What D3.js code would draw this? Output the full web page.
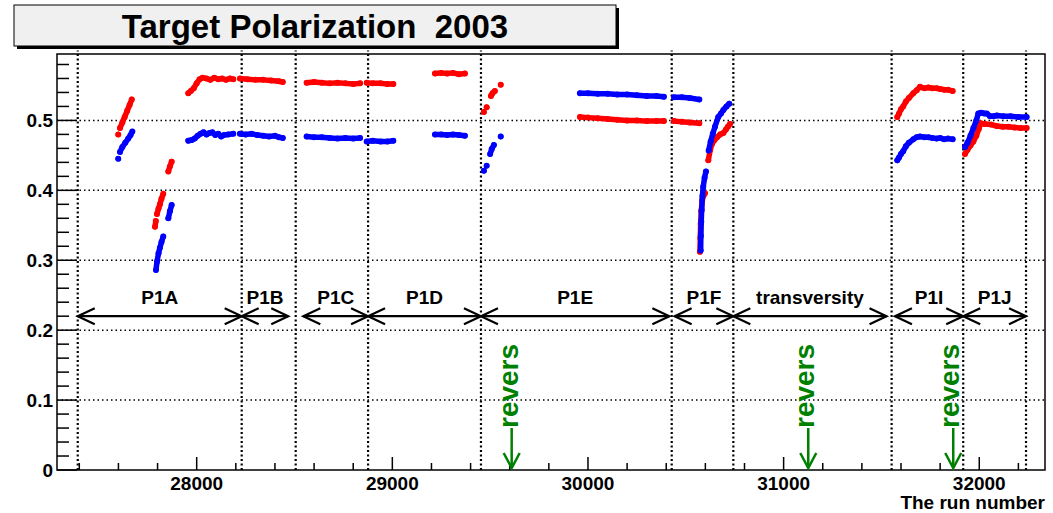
<!DOCTYPE html>
<html>
<head>
<meta charset="utf-8">
<script src="https://cdn.jsdelivr.net/npm/d3@7"></script>
<style>
  body { margin: 0; background: #fff; }
  text { font-family: "Liberation Sans", Arial, Helvetica, sans-serif; font-weight: bold; white-space: pre; }
</style>
</head>
<body>
<div id="chart"></div>
<script>
// polarization per run, segments separated where the data has gaps
const redSegments = [
  [[27599, 0.480]],
  [[27608, 0.489], [27620, 0.497], [27632, 0.505], [27645, 0.514], [27657, 0.522], [27668, 0.530]],
  [[27787, 0.348], [27791, 0.356]],
  [[27797, 0.366], [27805, 0.374], [27812, 0.380], [27820, 0.388], [27829, 0.395]],
  [[27855, 0.427], [27863, 0.434], [27872, 0.441]],
  [[27957, 0.539], [27970, 0.542], [27985, 0.546], [28000, 0.553], [28015, 0.559], [28030, 0.561], [28050, 0.560], [28070, 0.558], [28090, 0.561], [28110, 0.559], [28130, 0.560], [28150, 0.558], [28170, 0.560], [28187, 0.559]],
  [[28221, 0.560], [28260, 0.559], [28300, 0.558], [28340, 0.558], [28380, 0.557], [28420, 0.556], [28440, 0.555]],
  [[28562, 0.554], [28600, 0.555], [28640, 0.554], [28680, 0.553], [28720, 0.554], [28760, 0.553], [28800, 0.552], [28835, 0.553]],
  [[28869, 0.554], [28900, 0.553], [28940, 0.553], [28975, 0.552], [29005, 0.552]],
  [[29218, 0.567], [29250, 0.568], [29280, 0.567], [29310, 0.568], [29340, 0.566], [29371, 0.567]],
  [[29468, 0.512]],
  [[29482, 0.519]],
  [[29504, 0.535], [29512, 0.539], [29524, 0.542]],
  [[29554, 0.551]],
  [[29959, 0.505], [30000, 0.504], [30050, 0.503], [30100, 0.502], [30150, 0.501], [30200, 0.500], [30250, 0.500], [30300, 0.499], [30350, 0.499], [30388, 0.499]],
  [[30440, 0.499], [30480, 0.498], [30520, 0.497], [30569, 0.496]],
  [[30572, 0.312], [30574, 0.332], [30576, 0.352], [30579, 0.370], [30584, 0.386], [30590, 0.392], [30598, 0.396]],
  [[30615, 0.443], [30625, 0.458], [30635, 0.467], [30647, 0.472], [30660, 0.476], [30675, 0.480], [30692, 0.482], [30705, 0.487], [30715, 0.491], [30726, 0.495]],
  [[31581, 0.505], [31590, 0.510], [31600, 0.516], [31611, 0.520], [31625, 0.527], [31640, 0.532], [31663, 0.539], [31680, 0.543], [31697, 0.548], [31720, 0.546], [31740, 0.547], [31760, 0.546], [31782, 0.546], [31800, 0.545], [31820, 0.544], [31840, 0.544], [31864, 0.542]],
  [[31927, 0.452], [31940, 0.458], [31955, 0.464], [31970, 0.470], [31985, 0.478], [31998, 0.488], [32007, 0.496], [32030, 0.495], [32060, 0.494], [32089, 0.492], [32120, 0.491], [32150, 0.491], [32180, 0.490], [32210, 0.489], [32242, 0.489]]
];

const blueSegments = [
  [[27599, 0.445]],
  [[27608, 0.455], [27620, 0.462], [27635, 0.468], [27650, 0.474], [27662, 0.479], [27671, 0.484]],
  [[27792, 0.286], [27797, 0.298], [27805, 0.310], [27812, 0.318], [27820, 0.326], [27829, 0.334]],
  [[27855, 0.360], [27863, 0.370], [27872, 0.379]],
  [[27957, 0.471], [27975, 0.472], [27990, 0.474], [28005, 0.478], [28020, 0.481], [28035, 0.483], [28050, 0.480], [28065, 0.482], [28080, 0.483], [28095, 0.479], [28110, 0.481], [28125, 0.477], [28140, 0.479], [28160, 0.480], [28187, 0.481]],
  [[28221, 0.481], [28250, 0.480], [28280, 0.481], [28310, 0.479], [28340, 0.478], [28370, 0.477], [28400, 0.478], [28420, 0.476], [28440, 0.475]],
  [[28562, 0.477], [28600, 0.476], [28640, 0.476], [28680, 0.475], [28720, 0.474], [28760, 0.475], [28800, 0.474], [28835, 0.475]],
  [[28869, 0.470], [28900, 0.471], [28940, 0.470], [28975, 0.470], [29005, 0.471]],
  [[29218, 0.480], [29250, 0.480], [29280, 0.479], [29310, 0.480], [29340, 0.479], [29371, 0.478]],
  [[29468, 0.428]],
  [[29482, 0.435]],
  [[29500, 0.452], [29508, 0.459], [29519, 0.465]],
  [[29554, 0.477]],
  [[29959, 0.539], [30000, 0.539], [30050, 0.538], [30100, 0.538], [30150, 0.537], [30200, 0.537], [30250, 0.536], [30300, 0.535], [30350, 0.535], [30388, 0.534]],
  [[30440, 0.533], [30480, 0.533], [30520, 0.532], [30569, 0.530]],
  [[30576, 0.314], [30577, 0.335], [30579, 0.355], [30581, 0.372], [30585, 0.392], [30589, 0.405], [30596, 0.418], [30603, 0.427]],
  [[30617, 0.457], [30627, 0.470], [30638, 0.481], [30649, 0.491], [30666, 0.505], [30680, 0.510], [30692, 0.515], [30708, 0.520], [30722, 0.524]],
  [[31581, 0.443], [31590, 0.447], [31600, 0.452], [31611, 0.456], [31625, 0.463], [31640, 0.468], [31663, 0.473], [31680, 0.476], [31697, 0.477], [31720, 0.476], [31740, 0.476], [31760, 0.475], [31782, 0.474], [31800, 0.475], [31820, 0.473], [31840, 0.474], [31864, 0.473]],
  [[31927, 0.462], [31940, 0.468], [31955, 0.478], [31970, 0.489], [31985, 0.500], [31995, 0.510], [32010, 0.511], [32025, 0.510], [32038, 0.510], [32055, 0.506], [32072, 0.506], [32090, 0.507], [32123, 0.506], [32160, 0.506], [32200, 0.505], [32242, 0.505]]
];

const periodNames = ["P1A", "P1B", "P1C", "P1D", "P1E", "P1F", "transversity", "P1I", "P1J"];
const periodStart = [27392, 28230, 28545, 28876, 29453, 30443, 30743, 31569, 31918];
const periodEnd   = [28230, 28468, 28876, 29453, 30416, 30743, 31526, 31918, 32239];
const boundaries = [27392, 28230, 28506, 28876, 29453, 30428, 30743, 31552, 31918, 32239];
const reversals = [29610, 31126, 31867];
const xTicks = [28000, 29000, 30000, 31000, 32000];
const yTicks = [0, 0.1, 0.2, 0.3, 0.4, 0.5];

const width = 1053, height = 513;
const padL = 57, padR = 1045, padT = 54, padB = 470;

const svg = d3.select("#chart").append("svg")
    .attr("width", width)
    .attr("height", height);

const x = d3.scaleLinear().domain([27286, 32336]).range([padL, padR]);
const y = d3.scaleLinear().domain([0, 0.595]).range([padB, padT]);

// title box
svg.append("rect").attr("x", 17).attr("y", 8).attr("width", 602).attr("height", 41).attr("fill", "#000");
svg.append("rect").attr("x", 14).attr("y", 5).attr("width", 602).attr("height", 41)
    .attr("fill", "#f0f0f0").attr("stroke", "#000").attr("stroke-width", 1);
svg.append("text").attr("x", 315).attr("y", 38).attr("text-anchor", "middle")
    .attr("font-size", 33).text("Target Polarization  2003");

// horizontal grid
svg.append("g").selectAll("line")
    .data(yTicks.filter(d => d > 0))
    .join("line")
    .attr("x1", padL).attr("x2", padR)
    .attr("y1", d => y(d)).attr("y2", d => y(d))
    .attr("stroke", "#000").attr("stroke-width", 1.5)
    .attr("stroke-dasharray", "1.5,3");

// period boundaries
svg.append("g").selectAll("line")
    .data(boundaries)
    .join("line")
    .attr("x1", d => x(d)).attr("x2", d => x(d))
    .attr("y1", y(0)).attr("y2", y(0.6))
    .attr("stroke", "#000").attr("stroke-width", 2.2)
    .attr("stroke-dasharray", "2,2.5");

// frame
svg.append("rect").attr("x", padL).attr("y", padT)
    .attr("width", padR - padL).attr("height", padB - padT)
    .attr("fill", "none").attr("stroke", "#000").attr("stroke-width", 1.5);

// y ticks (inside)
const yMinor = d3.range(0, 0.5801, 0.02);
svg.append("g").selectAll("line")
    .data(yMinor)
    .join("line")
    .attr("x1", padL)
    .attr("x2", d => padL + (Math.abs(d * 10 - Math.round(d * 10)) < 1e-6 ? 20 : 12))
    .attr("y1", d => y(d)).attr("y2", d => y(d))
    .attr("stroke", "#000").attr("stroke-width", 1.5);

svg.append("g").selectAll("text")
    .data(yTicks)
    .join("text")
    .attr("x", 53).attr("y", d => y(d) + 7)
    .attr("text-anchor", "end").attr("font-size", 19)
    .text(d => d === 0 ? "0" : d3.format(".1f")(d));

// x ticks (inside)
const xMinor = d3.range(27400, 32336, 200);
svg.append("g").selectAll("line")
    .data(xMinor)
    .join("line")
    .attr("x1", d => x(d)).attr("x2", d => x(d))
    .attr("y1", padB)
    .attr("y2", d => padB - (d % 1000 === 0 ? 13 : 7))
    .attr("stroke", "#000").attr("stroke-width", 1.5);

svg.append("g").selectAll("text")
    .data(xTicks)
    .join("text")
    .attr("x", d => x(d)).attr("y", 490)
    .attr("text-anchor", "middle").attr("font-size", 19)
    .text(d => d);

svg.append("text").attr("x", 1045).attr("y", 509)
    .attr("text-anchor", "end").attr("font-size", 19)
    .text("The run number");

// period arrows
const ay = y(0.22);
const arrows = svg.append("g").attr("stroke", "#000").attr("stroke-width", 2.2).attr("fill", "none");
periodNames.forEach((name, i) => {
  const x1 = x(periodStart[i]), x2 = x(periodEnd[i]);
  arrows.append("line").attr("x1", x1).attr("x2", x2).attr("y1", ay).attr("y2", ay);
  arrows.append("path").attr("d", `M${x1 + 17},${ay - 8}L${x1},${ay}L${x1 + 17},${ay + 8}`);
  arrows.append("path").attr("d", `M${x2 - 17},${ay - 8}L${x2},${ay}L${x2 - 17},${ay + 8}`);
  svg.append("text")
      .attr("x", (x1 + x2) / 2).attr("y", y(0.237))
      .attr("text-anchor", "middle").attr("font-size", 19)
      .text(name);
});

// reversal markers
const green = "#008000";
reversals.forEach(r => {
  const rx = x(r);
  const g = svg.append("g");
  g.append("line").attr("x1", rx).attr("x2", rx).attr("y1", 428).attr("y2", 468)
      .attr("stroke", green).attr("stroke-width", 2.5);
  g.append("path").attr("d", `M${rx - 8},${453}L${rx},${468}L${rx + 8},${453}`)
      .attr("fill", "none").attr("stroke", green).attr("stroke-width", 2.5);
  g.append("text")
      .attr("transform", `translate(${rx + 6},428) rotate(-90)`)
      .attr("font-size", 28).attr("fill", green)
      .text("revers");
});

// data
const line = d3.line().x(d => x(d[0])).y(d => y(d[1]));
function drawSeries(segments, color) {
  const g = svg.append("g");
  g.selectAll("path")
      .data(segments)
      .join("path")
      .attr("d", line)
      .attr("fill", "none").attr("stroke", color)
      .attr("stroke-width", 5.5)
      .attr("stroke-linecap", "round").attr("stroke-linejoin", "round");
  g.selectAll("circle")
      .data(segments.flat())
      .join("circle")
      .attr("cx", d => x(d[0])).attr("cy", d => y(d[1]))
      .attr("r", 3).attr("fill", color);
}
drawSeries(redSegments, "#ff0000");
drawSeries(blueSegments, "#0000ff");
</script>
</body>
</html>
